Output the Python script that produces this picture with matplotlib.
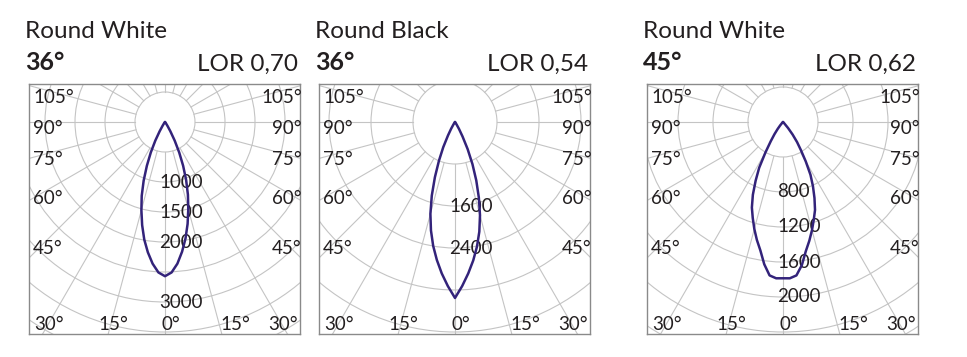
import numpy as np
import matplotlib
matplotlib.use("Agg")
import matplotlib.pyplot as plt
from matplotlib.patches import Circle

plt.rcParams['font.family'] = ['Lato', 'DejaVu Sans']

# ---------------- data ----------------
titles = ["Round White", "Round Black", "Round White"]
beam_labels = ["36°", "36°", "45°"]
lor_labels = ["LOR 0,70", "LOR 0,54", "LOR 0,62"]

# gamma angles (degrees from nadir) for intensity tables
gamma = [0, 2.5, 5, 7.5, 10, 12.5, 15, 17.5, 20, 22.5, 25, 27.5, 30, 32.5,
         35, 37.5, 40, 45, 50, 60, 90]

# luminous intensity (cd) – left half (C180) and right half (C0)
p1_left = [2570, 2510, 2370, 2190, 1990, 1760, 1520, 1290, 1040, 790, 560, 350, 180, 80,
           35, 15, 6, 2, 0, 0, 0]
p1_right = [2570, 2510, 2370, 2180, 1970, 1740, 1500, 1270, 1030, 790, 560, 350, 180, 80,
            35, 15, 6, 2, 0, 0, 0]
p2_left = [3352, 3128, 2895, 2650, 2395, 2116, 1810, 1470, 1120, 800, 530, 290, 145, 55,
           18, 5, 0, 0, 0, 0, 0]
p2_right = [3352, 3128, 2895, 2660, 2410, 2140, 1840, 1510, 1185, 869, 570, 310, 152, 57,
            19, 5, 0, 0, 0, 0, 0]
p3_left = [1786, 1788, 1760, 1640, 1490, 1380, 1266, 1150, 1040, 900, 740, 590, 400, 260,
           170, 100, 50, 10, 3, 0, 0]
p3_right = [1786, 1788, 1760, 1650, 1500, 1390, 1280, 1170, 1070, 940, 810, 680, 520, 380,
            280, 180, 90, 15, 3, 0, 0]

# ring step (cd) and radial tick labels per panel
ring_steps = [500, 800, 400]
radial_labels = [[1000, 1500, 2000, 3000], [1600, 2400], [800, 1200, 1600, 2000]]

angle_ticks_side = ["105°", "90°", "75°", "60°", "45°"]
angle_ticks_bottom = ["30°", "15°", "0°", "15°", "30°"]

# ---------------- layout ----------------
W, H = 967, 357
fig = plt.figure(figsize=(W / 100, H / 100), dpi=100)

box_left = [29, 319, 647]       # px
box_w, box_h = 271, 250
box_top = 84
center_dx, center_dy = 136, 38  # center offset from box left/top (px)
ring_px = [30, 42, 35]          # pixels per ring step

curve_color = "#33237a"
grid_color = "#c4c4c4"
text_color = "#231f20"

side_y = [236.5, 206, 174.5, 136, 85]             # axes px (from bottom)
bottom_x = [5, 84, 141.5, 206, 269]
bottom_ha = ["left", "center", "center", "center", "right"]

panels = [(p1_left, p1_right), (p2_left, p2_right), (p3_left, p3_right)]
fs_small = 13.5
fs_big = 17.5

for i in range(3):
    bl = box_left[i]
    ax = fig.add_axes([bl / W, (H - box_top - box_h) / H, box_w / W, box_h / H])
    s = ring_steps[i] / ring_px[i]  # cd per px
    ax.set_xlim(-center_dx * s, (box_w - center_dx) * s)
    ax.set_ylim(-(box_h - center_dy) * s, center_dy * s)
    ax.set_xticks([])
    ax.set_yticks([])
    for sp in ax.spines.values():
        sp.set_color("#8a8a8a")
        sp.set_linewidth(1.0)

    step = ring_steps[i]
    # rings
    for k in range(1, 12):
        ax.add_patch(Circle((0, 0), k * step, fill=False, ec=grid_color, lw=0.8, zorder=1))
    # spokes
    rmax = 12 * step
    for a in range(0, 360, 15):
        t = np.radians(a)
        ax.plot([step * np.sin(t), rmax * np.sin(t)], [-step * np.cos(t), -rmax * np.cos(t)],
                color=grid_color, lw=0.8, zorder=1)

    # curve
    left, right = panels[i]
    g = np.radians(gamma)
    xl = -np.array(left) * np.sin(g)
    yl = -np.array(left) * np.cos(g)
    xr = np.array(right) * np.sin(g)
    yr = -np.array(right) * np.cos(g)
    xs = np.concatenate([xl[::-1], xr[1:]])
    ys = np.concatenate([yl[::-1], yr[1:]])
    ax.plot(xs, ys, color=curve_color, lw=1.8, zorder=3, solid_joinstyle='round',
            solid_capstyle='round')

    # radial labels
    for v in radial_labels[i]:
        ax.text(-6 * s, -v, str(v), fontsize=fs_small, color=text_color, ha="left",
                va="center", zorder=2)

    # angle labels
    for lab, y in zip(angle_ticks_side, side_y):
        ax.annotate(lab, xy=(4, y), xycoords="axes pixels", fontsize=fs_small, color=text_color,
                    ha="left", va="center", zorder=4)
        ax.annotate(lab, xy=(box_w + 2, y), xycoords="axes pixels", fontsize=fs_small,
                    color=text_color, ha="right", va="center", zorder=4, annotation_clip=False)
    for lab, x, ha in zip(angle_ticks_bottom, bottom_x, bottom_ha):
        ax.annotate(lab, xy=(x, 9), xycoords="axes pixels", fontsize=fs_small, color=text_color,
                    ha=ha, va="center", zorder=4)

    # titles
    fig.text((bl - 4) / W, 1 - 37.5 / H, titles[i], fontsize=fs_big, color=text_color,
             ha="left", va="baseline")
    fig.text((bl - 4) / W, 1 - 70.5 / H, beam_labels[i], fontsize=fs_big + 0.5, color=text_color,
             ha="left", va="baseline", fontweight="bold")
    fig.text((bl + box_w - 2) / W, 1 - 70.5 / H, lor_labels[i], fontsize=fs_big,
             color=text_color, ha="right", va="baseline")

fig.savefig("out.png", dpi=100, facecolor="white")
